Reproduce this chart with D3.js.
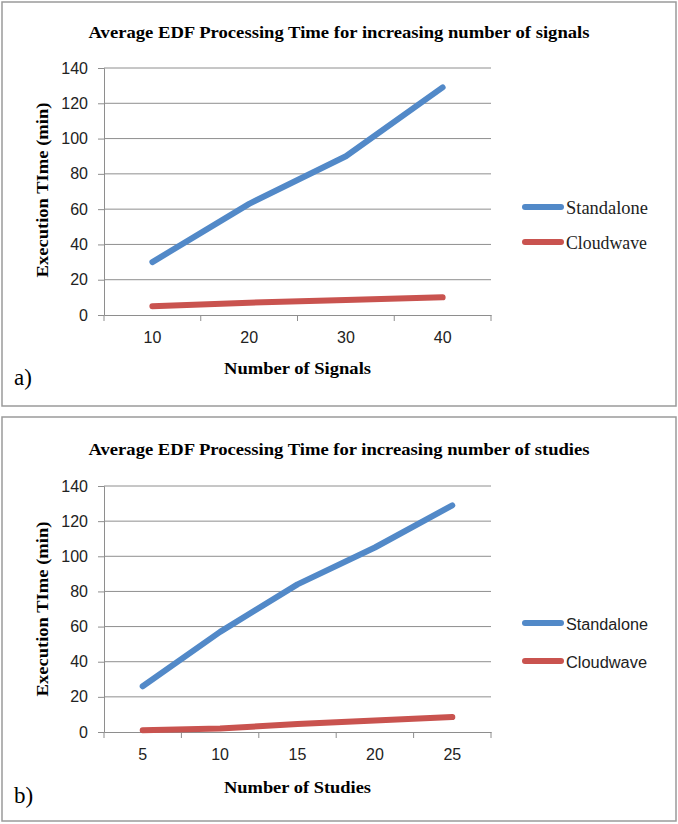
<!DOCTYPE html>
<html><head><meta charset="utf-8">
<script src="https://cdn.jsdelivr.net/npm/d3@7"></script>
<style>body{margin:0;background:#fff}svg{display:block}</style>
</head><body>
<svg id="c" width="678" height="824"></svg>
<script>
// Data
const signalsCategories = ["10", "20", "30", "40"];
const signalsStandalone = [30, 63, 90, 129];
const signalsCloudwave = [5, 7, 8.5, 10];
const studiesCategories = ["5", "10", "15", "20", "25"];
const studiesStandalone = [26, 57, 84, 105, 129];
const studiesCloudwave = [1, 2, 4.5, 6.5, 8.5];
const yTicks = [0, 20, 40, 60, 80, 100, 120, 140];
const seriesNames = ["Standalone", "Cloudwave"];

const svg = d3.select("#c");
const BLUE = "#5289C8", RED = "#C9534F", GRID = "#8e8e8e";
const SERIF = "'Liberation Serif','Times New Roman',serif";
const SANS = "'Liberation Sans',Arial,sans-serif";

function panel(o) {
  const g = svg.append("g");
  g.append("rect").attr("x", o.bx).attr("y", o.by).attr("width", o.bw).attr("height", o.bh)
    .attr("fill", "#fff").attr("stroke", "#9a9a9a").attr("stroke-width", 1.5);
  g.append("text").attr("x", 339).attr("y", o.titleY).attr("text-anchor", "middle")
    .attr("font-family", SERIF).attr("font-weight", "bold").attr("font-size", 17)
    .attr("textLength", 501).attr("lengthAdjust", "spacingAndGlyphs").text(o.title);

  const x = d3.scaleBand().domain(o.cats).range([104, 491]);
  const y = d3.scaleLinear().domain([0, 140]).range([o.y0, o.y1]);

  // gridlines
  g.append("g").selectAll("line").data(yTicks.filter(d => d > 0)).join("line")
    .attr("x1", 104).attr("x2", 491).attr("y1", d => y(d)).attr("y2", d => y(d))
    .attr("stroke", GRID).attr("stroke-width", 1);

  // y axis
  const ya = g.append("g").attr("transform", "translate(104,0)")
    .call(d3.axisLeft(y).tickValues(yTicks).tickSize(6).tickPadding(10));
  ya.select(".domain").attr("stroke", GRID);
  ya.selectAll(".tick line").attr("stroke", GRID);
  ya.selectAll("text").attr("font-family", SANS).attr("font-size", 16).attr("fill", "#222");

  // x axis
  const xa = g.append("g").attr("transform", `translate(0,${o.y0})`)
    .call(d3.axisBottom(x).tickSize(0).tickPadding(17));
  xa.select(".domain").attr("stroke", GRID);
  xa.selectAll("text").attr("font-family", SANS).attr("font-size", 16).attr("fill", "#222");
  const bounds = o.cats.map(c => x(c)).concat([x(o.cats[o.cats.length - 1]) + x.bandwidth()]);
  g.append("g").selectAll("line").data(bounds).join("line")
    .attr("x1", d => d).attr("x2", d => d).attr("y1", o.y0).attr("y2", o.y0 + 6)
    .attr("stroke", GRID);

  // lines
  const line = d3.line().x((d, i) => x(o.cats[i]) + x.bandwidth() / 2).y(d => y(d));
  [[o.s1, BLUE], [o.s2, RED]].forEach(([s, c]) => {
    g.append("path").datum(s).attr("d", line).attr("fill", "none").attr("stroke", c)
      .attr("stroke-width", 6).attr("stroke-linecap", "round").attr("stroke-linejoin", "round");
  });

  // axis titles
  g.append("text").attr("transform", `translate(48,${o.ytY}) rotate(-90)`).attr("text-anchor", "middle")
    .attr("font-family", SERIF).attr("font-weight", "bold").attr("font-size", 17)
    .attr("textLength", 175).attr("lengthAdjust", "spacingAndGlyphs").text("Execution TIme (min)");
  g.append("text").attr("x", 297.5).attr("y", o.xtY).attr("text-anchor", "middle")
    .attr("font-family", SERIF).attr("font-weight", "bold").attr("font-size", 17)
    .attr("textLength", 147).attr("lengthAdjust", "spacingAndGlyphs").text(o.xTitle);
  g.append("text").attr("x", 14).attr("y", o.lblY).attr("font-family", SERIF)
    .attr("font-size", 23).text(o.label);

  // legend
  [[BLUE, o.leg[0]], [RED, o.leg[1]]].forEach(([c, ly], i) => {
    g.append("line").attr("x1", 525).attr("x2", 561).attr("y1", ly).attr("y2", ly)
      .attr("stroke", c).attr("stroke-width", 6).attr("stroke-linecap", "round");
    g.append("text").attr("x", 566).attr("y", ly + 7).attr("font-family", o.legFont)
      .attr("font-size", o.legFont === SERIF ? 18 : 16).attr("fill", "#222")
      .attr("textLength", i === 0 ? 82 : 81).attr("lengthAdjust", "spacingAndGlyphs").text(seriesNames[i]);
  });
}

panel({bx: 2, by: 2, bw: 674, bh: 404, title: "Average EDF Processing Time for increasing number of signals",
  titleY: 38, cats: signalsCategories, s1: signalsStandalone, s2: signalsCloudwave,
  y0: 315, y1: 68, ytY: 190, xtY: 374, xTitle: "Number of Signals", label: "a)", lblY: 385,
  leg: [207, 242], legFont: SERIF});
panel({bx: 2, by: 417, bw: 674, bh: 404, title: "Average EDF Processing Time for increasing number of studies",
  titleY: 455, cats: studiesCategories, s1: studiesStandalone, s2: studiesCloudwave,
  y0: 732, y1: 486, ytY: 609, xtY: 793, xTitle: "Number of Studies", label: "b)", lblY: 803,
  leg: [623, 661], legFont: SANS});
</script>
</body></html>
